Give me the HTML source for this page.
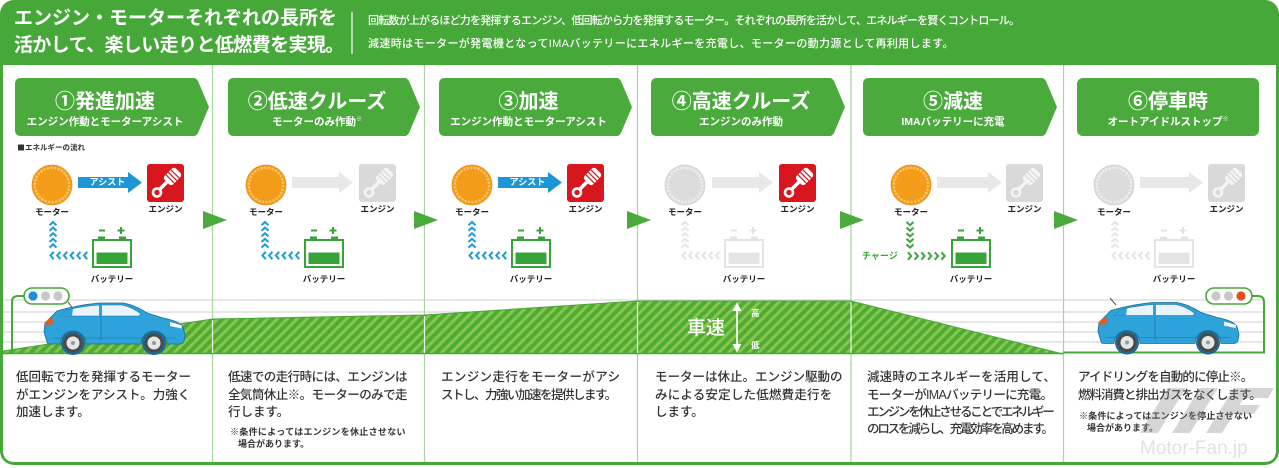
<!DOCTYPE html>
<html lang="ja"><head><meta charset="utf-8">
<style>
html,body{margin:0;padding:0;background:#fff;}
body{width:1279px;height:468px;position:relative;overflow:hidden;}
svg{position:absolute;left:0;top:0;}
.t{position:absolute;white-space:nowrap;line-height:1;font-family:"Liberation Sans","Noto Sans CJK JP",sans-serif;}
.ttl{font-size:20px;color:#fff;font-weight:bold;text-align:center;top:92px;}
.sub{font-size:10.5px;color:#fff;font-weight:bold;text-align:center;top:116.5px;}
.lbl{font-size:8.5px;font-weight:bold;color:#222;width:60px;text-align:center;}
.bt{font-size:12.5px;color:#333;font-weight:500;}
.nt{font-size:9px;color:#333;font-weight:bold;}
.sm{font-size:6px;vertical-align:4px;}
</style></head><body>
<svg width="1279" height="468" viewBox="0 0 1279 468">
<defs>
<pattern id="h" width="7" height="7" patternUnits="userSpaceOnUse" patternTransform="rotate(45)"><rect width="7" height="7" fill="#4fab36"/><rect width="3" height="7" fill="#86c64a"/></pattern>
<g id="motO"><circle r="20" fill="#f39c1a"/><circle r="17.2" fill="none" stroke="#f9c46c" stroke-width="2.4" stroke-dasharray="2.3 1.3"/><circle r="20" fill="none" stroke="#ec9018" stroke-width="0.8"/></g>
<g id="motG"><circle r="20" fill="#dcdcdc"/><circle r="17.2" fill="none" stroke="#ededed" stroke-width="2.4" stroke-dasharray="2.3 1.3"/><circle r="20" fill="none" stroke="#d2d2d2" stroke-width="0.8"/></g>
<g id="engR"><rect width="37" height="38" rx="3" fill="#d7161d"/><circle cx="10" cy="28.5" r="4" fill="none" stroke="#fff" stroke-width="2.6"/><path d="M12.5,25.5 L21,17" stroke="#fff" stroke-width="3.6"/><g transform="translate(24.5,13.5) rotate(45)"><rect x="-6" y="-9.5" width="12" height="16" rx="3" fill="#fff"/><path d="M-6,-5 H6 M-6,-1.5 H6 M-6,2 H6" stroke="#d7161d" stroke-width="1.2"/></g></g>
<g id="engG"><rect width="37" height="38" rx="3" fill="#d9d9d9"/><circle cx="10" cy="28.5" r="4" fill="none" stroke="#f4f4f4" stroke-width="2.6"/><path d="M12.5,25.5 L21,17" stroke="#f4f4f4" stroke-width="3.6"/><g transform="translate(24.5,13.5) rotate(45)"><rect x="-6" y="-9.5" width="12" height="16" rx="3" fill="#f4f4f4"/><path d="M-6,-5 H6 M-6,-1.5 H6 M-6,2 H6" stroke="#d9d9d9" stroke-width="1.2"/></g></g>
<path id="chv" fill="none" d="M-3.5,225.2 L0,222 L3.5,225.2 M-3.5,230.8 L0,227.6 L3.5,230.8 M-3.5,236.4 L0,233.2 L3.5,236.4 M-3.5,242 L0,238.8 L3.5,242 M-3.5,247.6 L0,244.4 L3.5,247.6 M0.7,251.8 L-2.5,255.5 L0.7,259.2 M7.4,251.8 L4.2,255.5 L7.4,259.2 M14.1,251.8 L10.9,255.5 L14.1,259.2 M20.8,251.8 L17.6,255.5 L20.8,259.2 M27.5,251.8 L24.3,255.5 L27.5,259.2 M34.2,251.8 L31,255.5 L34.2,259.2"/>
<g id="bat">
 <rect x="-19" y="240" width="38" height="27" fill="#fff" stroke="currentColor" stroke-width="2"/>
 <rect x="-15.5" y="252.5" width="31" height="11.5" fill="currentColor"/>
 <rect x="-14" y="236.5" width="7" height="3.5" fill="currentColor"/>
 <rect x="7" y="236.5" width="7" height="3.5" fill="currentColor"/>
 <path d="M-13,230.5 H-7 M5.5,230.5 H12.5 M9,227 V234" stroke="currentColor" stroke-width="2"/>
</g>
<g id="car">
 <circle cx="30" cy="42" r="12" fill="#1d6a92"/><circle cx="111" cy="42" r="12" fill="#1d6a92"/>
 <path d="M4,41 L1,31 L2,22 L8,16 L14,10 Q34,4 56,2 L80,2 Q92,4 104,12 L120,17 Q136,20 140,26 L142,34 L141,40 Q140,43 136,43 L124,43 A13,13 0 0 0 98,43 L43,43 A13,13 0 0 0 17,43 L7,43 Q4,43 4,41 Z" fill="#2ea2da" stroke="#1b6e97" stroke-width="0.8"/>
 <path d="M17,15 L24,9 Q40,5 57,4 L79,4 Q89,6 98,13 L96,15 Z" fill="#eaf5fb" stroke="#1b6e97" stroke-width="0.6"/>
 <rect x="56" y="4" width="3" height="11" fill="#2ea2da"/>
 <path d="M17,15 L24,9 L30,8 L29,15 Z" fill="#2ea2da"/>
 <path d="M2,21 L9,16 L11,23 L2,25 Z" fill="#d8602a"/>
 <path d="M127,21 L139,24.5 L138.5,27.5 L127,25 Z" fill="#fff"/>
 <path d="M58,16 L58,40 M10,37 H132" stroke="#1b6e97" stroke-width="0.6" fill="none"/>
 <circle cx="30" cy="42" r="9.5" fill="#4a4a4a"/><circle cx="30" cy="42" r="6.5" fill="#e6e6e6"/><circle cx="30" cy="42" r="2" fill="#999"/>
 <circle cx="111" cy="42" r="9.5" fill="#4a4a4a"/><circle cx="111" cy="42" r="6.5" fill="#e6e6e6"/><circle cx="111" cy="42" r="2" fill="#999"/>
</g>
</defs>

<rect x="0" y="0" width="1279" height="465" rx="14" fill="#46a838"/>
<path d="M3,65 H1276 V450 Q1276,462 1264,462 H15 Q3,462 3,450 Z" fill="#fff"/>
<line x1="352" y1="12" x2="352" y2="54" stroke="#fff" stroke-width="1.2"/>

<g stroke="#cfcfcf" stroke-width="1">
<line x1="3" y1="300" x2="1264" y2="300"/><line x1="3" y1="312" x2="1264" y2="312"/><line x1="3" y1="322" x2="1264" y2="322"/><line x1="3" y1="332" x2="1264" y2="332"/><line x1="3" y1="342" x2="1264" y2="342"/>
</g>

<g stroke="#a9d69e" stroke-width="1.2">
<line x1="212.5" y1="65" x2="212.5" y2="462"/><line x1="424.5" y1="65" x2="424.5" y2="462"/><line x1="637.5" y1="65" x2="637.5" y2="462"/><line x1="851" y1="65" x2="851" y2="462"/><line x1="1063.5" y1="65" x2="1063.5" y2="462"/>
</g>

<polygon points="3,351 212.5,319 424.5,315 637.5,301 851,301 1063,354 3,354" fill="url(#h)"/>
<polyline points="3,351 212.5,319 424.5,315 637.5,301 851,301 1063,354" fill="none" stroke="#46a838" stroke-width="1"/>
<line x1="3" y1="353.5" x2="1063" y2="353.5" stroke="#46a838" stroke-width="1.5"/>
<g stroke="#fff" stroke-width="1.2" opacity="0.85">
<line x1="212.5" y1="320" x2="212.5" y2="353"/><line x1="424.5" y1="316" x2="424.5" y2="353"/><line x1="637.5" y1="302" x2="637.5" y2="353"/><line x1="851" y1="302" x2="851" y2="353"/>
</g>
<path d="M1063,352.5 H1264 V302 Q1264,296 1258,296 H1252" fill="none" stroke="#46a838" stroke-width="2"/>
<path d="M24,296 H18 Q12,296 12,302 V353" fill="none" stroke="#46a838" stroke-width="2"/>

<rect x="24" y="288" width="45" height="16" rx="8" fill="#fff" stroke="#46a838" stroke-width="1.6"/>
<circle cx="33" cy="296" r="4.6" fill="#1b8fd6"/><circle cx="45.5" cy="296" r="4.6" fill="#c8c8c8"/><circle cx="58" cy="296" r="4.6" fill="#c8c8c8"/>
<rect x="1206" y="288" width="46" height="16" rx="8" fill="#fff" stroke="#46a838" stroke-width="1.6"/>
<circle cx="1216" cy="296" r="4.6" fill="#c8c8c8"/><circle cx="1228.5" cy="296" r="4.6" fill="#c8c8c8"/><circle cx="1241" cy="296" r="4.6" fill="#e8501a"/>

<line x1="68" y1="302" x2="74" y2="310" stroke="#555" stroke-width="1"/>
<use href="#car" x="43" y="301"/>
<line x1="1110" y1="298" x2="1116" y2="305" stroke="#555" stroke-width="1"/>
<use href="#car" x="1097" y="300.5"/>

<path d="M737,307 V348" stroke="#fff" stroke-width="1.6"/>
<polygon points="737,302.5 732.5,311 741.5,311" fill="#fff"/>
<polygon points="737,352.5 732.5,344 741.5,344" fill="#fff"/>

<g fill="#4aaa3c">
<path d="M21,78 H194 Q196,78 198,81 L209,107 L198,133 Q196,136 194,136 H21 Q15,136 15,130 V84 Q15,78 21,78 Z"/>
<path d="M234,78 H405 Q407,78 409,81 L420,107 L409,133 Q407,136 405,136 H234 Q228,136 228,130 V84 Q228,78 234,78 Z"/>
<path d="M445,78 H617 Q619,78 621,81 L632,107 L621,133 Q619,136 617,136 H445 Q439,136 439,130 V84 Q439,78 445,78 Z"/>
<path d="M657,78 H830 Q832,78 834,81 L845,107 L834,133 Q832,136 830,136 H657 Q651,136 651,130 V84 Q651,78 657,78 Z"/>
<path d="M869,78 H1042 Q1044,78 1046,81 L1057,107 L1046,133 Q1044,136 1042,136 H869 Q863,136 863,130 V84 Q863,78 869,78 Z"/>
<rect x="1077" y="78" width="182" height="58" rx="6"/>
<polygon points="203,211 203,229 227,220"/>
<polygon points="414,211 414,229 438,220"/>
<polygon points="627,211 627,229 651,220"/>
<polygon points="840,211 840,229 864,220"/>
<polygon points="1054,211 1054,229 1078,220"/>
</g>
<rect x="18" y="144.5" width="6" height="6" fill="#333"/>

<use href="#motO" x="52" y="185"/>
<use href="#motO" x="266" y="185"/>
<use href="#motO" x="472" y="185"/>
<use href="#motG" x="685" y="185"/>
<use href="#motO" x="911" y="185"/>
<use href="#motG" x="1114" y="185"/>

<polygon points="78,177 128,177 128,172 142,182.5 128,193 128,188 78,188" fill="#1c96d5"/>
<polygon points="292,177 339,177 339,172 353,182.5 339,193 339,188 292,188" fill="#e8e8e8"/>
<polygon points="498,177 548,177 548,172 562,182.5 548,193 548,188 498,188" fill="#1c96d5"/>
<polygon points="712,177 759,177 759,172 773,182.5 759,193 759,188 712,188" fill="#e8e8e8"/>
<polygon points="937,177 988,177 988,172 1002,182.5 988,193 988,188 937,188" fill="#e8e8e8"/>
<polygon points="1140,177 1189,177 1189,172 1203,182.5 1189,193 1189,188 1140,188" fill="#e8e8e8"/>

<use href="#engR" x="147" y="164"/>
<use href="#engG" x="359" y="164"/>
<use href="#engR" x="567" y="164"/>
<use href="#engR" x="779" y="164"/>
<use href="#engG" x="1006" y="164"/>
<use href="#engG" x="1208" y="164"/>

<use href="#chv" x="53" y="0" stroke="#1e9ad6" stroke-width="2"/>
<use href="#chv" x="265" y="0" stroke="#1e9ad6" stroke-width="2"/>
<use href="#chv" x="472" y="0" stroke="#1e9ad6" stroke-width="2"/>
<use href="#chv" x="685" y="0" stroke="#e4e4e4" stroke-width="2"/>
<use href="#chv" x="1115" y="0" stroke="#e4e4e4" stroke-width="2"/>
<path fill="none" stroke="#3ca63c" stroke-width="2" d="M906.5,222 L910,225.2 L913.5,222 M906.5,227.6 L910,230.8 L913.5,227.6 M906.5,233.2 L910,236.4 L913.5,233.2 M906.5,238.8 L910,242 L913.5,238.8 M906.5,244.4 L910,247.6 L913.5,244.4 M908,252.3 L911.2,256 L908,259.7 M914.7,252.3 L917.9,256 L914.7,259.7 M921.4,252.3 L924.6,256 L921.4,259.7 M928.1,252.3 L931.3,256 L928.1,259.7 M934.8,252.3 L938,256 L934.8,259.7 M941.5,252.3 L944.7,256 L941.5,259.7"/>

<use href="#bat" x="112" y="0" color="#37a43a"/>
<use href="#bat" x="324" y="0" color="#37a43a"/>
<use href="#bat" x="531" y="0" color="#37a43a"/>
<use href="#bat" x="744" y="0" color="#e4e4e4"/>
<use href="#bat" x="971" y="0" color="#37a43a"/>
<use href="#bat" x="1174" y="0" color="#e4e4e4"/>
</svg>

<div class="t" style="left:14px;top:9px;font-size:19px;color:#fff;font-weight:bold;">エンジン・モーターそれぞれの長所を</div>
<div class="t" style="left:14px;top:36px;font-size:19px;color:#fff;font-weight:bold;letter-spacing:-0.6px;">活かして、楽しい走りと低燃費を実現。</div>
<div class="t" style="left:368px;top:16px;font-size:11px;color:#fff;font-weight:500;letter-spacing:-0.8px;">回転数が上がるほど力を発揮するエンジン、低回転から力を発揮するモーター。それぞれの長所を活かして、エネルギーを賢くコントロール。</div>
<div class="t" style="left:368px;top:39px;font-size:11px;color:#fff;font-weight:500;letter-spacing:0.35px;">減速時はモーターが発電機となってIMAバッテリーにエネルギーを充電し、モーターの動力源として再利用します。</div>

<div class="t ttl" style="left:15px;width:180px;">①発進加速</div>
<div class="t sub" style="left:15px;width:180px;">エンジン作動とモーターアシスト</div>
<div class="t ttl" style="left:228px;width:178px;">②低速クルーズ</div>
<div class="t sub" style="left:228px;width:178px;">モーターのみ作動<span class="sm">※</span></div>
<div class="t ttl" style="left:439px;width:179px;">③加速</div>
<div class="t sub" style="left:439px;width:179px;">エンジン作動とモーターアシスト</div>
<div class="t ttl" style="left:651px;width:180px;">④高速クルーズ</div>
<div class="t sub" style="left:651px;width:180px;">エンジンのみ作動</div>
<div class="t ttl" style="left:863px;width:180px;">⑤減速</div>
<div class="t sub" style="left:863px;width:180px;">IMAバッテリーに充電</div>
<div class="t ttl" style="left:1077px;width:182px;">⑥停車時</div>
<div class="t sub" style="left:1077px;width:182px;">オートアイドルストップ<span class="sm">※</span></div>

<div class="t" style="left:25px;top:144px;font-size:7.5px;font-weight:bold;color:#333;">エネルギーの流れ</div>

<div class="t lbl" style="left:22px;top:208px;">モーター</div>
<div class="t lbl" style="left:236px;top:208px;">モーター</div>
<div class="t lbl" style="left:442px;top:208px;">モーター</div>
<div class="t lbl" style="left:655px;top:208px;">モーター</div>
<div class="t lbl" style="left:881px;top:208px;">モーター</div>
<div class="t lbl" style="left:1084px;top:208px;">モーター</div>
<div class="t lbl" style="left:135.5px;top:205px;">エンジン</div>
<div class="t lbl" style="left:347.5px;top:205px;">エンジン</div>
<div class="t lbl" style="left:555.5px;top:205px;">エンジン</div>
<div class="t lbl" style="left:767.5px;top:205px;">エンジン</div>
<div class="t lbl" style="left:994.5px;top:205px;">エンジン</div>
<div class="t lbl" style="left:1196.5px;top:205px;">エンジン</div>
<div class="t lbl" style="left:82px;top:275px;">バッテリー</div>
<div class="t lbl" style="left:294px;top:275px;">バッテリー</div>
<div class="t lbl" style="left:501px;top:275px;">バッテリー</div>
<div class="t lbl" style="left:714px;top:275px;">バッテリー</div>
<div class="t lbl" style="left:941px;top:275px;">バッテリー</div>
<div class="t lbl" style="left:1144px;top:275px;">バッテリー</div>
<div class="t" style="left:87.5px;width:40px;text-align:center;top:178px;font-size:9px;color:#fff;font-weight:bold;">アシスト</div>
<div class="t" style="left:507.5px;width:40px;text-align:center;top:178px;font-size:9px;color:#fff;font-weight:bold;">アシスト</div>
<div class="t" style="left:862px;top:252px;font-size:9px;color:#3ca63c;font-weight:bold;">チャージ</div>

<div class="t" style="left:687px;top:319px;font-size:19px;color:#fff;font-weight:500;">車速</div>
<div class="t" style="left:751px;top:308.5px;font-size:8.5px;color:#fff;font-weight:bold;">高</div>
<div class="t" style="left:751px;top:341px;font-size:8.5px;color:#fff;font-weight:bold;">低</div>

<div class="t bt" style="left:16px;top:371px;">低回転で力を発揮するモーター</div>
<div class="t bt" style="left:16px;top:389px;">がエンジンをアシスト。力強く</div>
<div class="t bt" style="left:16px;top:406px;">加速します。</div>

<div class="t bt" style="left:228px;top:371px;letter-spacing:-0.57px;">低速での走行時には、エンジンは</div>
<div class="t bt" style="left:228px;top:389px;letter-spacing:-0.57px;">全気筒休止※。モーターのみで走</div>
<div class="t bt" style="left:228px;top:406px;">行します。</div>
<div class="t nt" style="left:230px;top:428px;letter-spacing:0.3px;">※条件によってはエンジンを休止させない</div>
<div class="t nt" style="left:238px;top:439.5px;">場合があります。</div>

<div class="t bt" style="left:441px;top:371px;letter-spacing:0.35px;">エンジン走行をモーターがアシ</div>
<div class="t bt" style="left:441px;top:389px;letter-spacing:-1.5px;">ストし、力強い加速を提供します。</div>

<div class="t bt" style="left:655px;top:371px;">モーターは休止。エンジン駆動の</div>
<div class="t bt" style="left:655px;top:389px;letter-spacing:0.2px;">みによる安定した低燃費走行を</div>
<div class="t bt" style="left:655px;top:406px;">します。</div>

<div class="t bt" style="left:867px;top:371px;letter-spacing:0.17px;">減速時のエネルギーを活用して、</div>
<div class="t bt" style="left:867px;top:389px;letter-spacing:-0.7px;">モーターがIMAバッテリーに充電。</div>
<div class="t bt" style="left:867px;top:406px;letter-spacing:-2.17px;">エンジンを休止させることでエネルギー</div>
<div class="t bt" style="left:867px;top:423px;letter-spacing:-2.17px;">のロスを減らし、充電効率を高めます。</div>

<div class="t bt" style="left:1078px;top:371px;letter-spacing:-0.83px;">アイドリングを自動的に停止※。</div>
<div class="t bt" style="left:1078px;top:389px;letter-spacing:-1px;">燃料消費と排出ガスをなくします。</div>
<div class="t nt" style="left:1079px;top:412px;letter-spacing:0.16px;">※条件によってはエンジンを停止させない</div>
<div class="t nt" style="left:1087px;top:424px;">場合があります。</div>

<svg width="1279" height="468" viewBox="0 0 1279 468" style="pointer-events:none">
<g fill="#8a8a8a" opacity="0.35">
<polygon points="1140,433 1158,433 1186,388 1168,388"/>
<polygon points="1172,433 1190,433 1218,388 1200,388"/>
<polygon points="1206,433 1222,433 1250,388 1234,388"/>
<polygon points="1236,388 1274,388 1268,398 1230,398"/>
<polygon points="1224,405 1260,405 1254,414 1218,414"/>
</g>
</svg>
<div class="t" style="left:1140px;top:439px;font-size:19px;color:#e2e2e2;">Motor-Fan.jp</div>
</body></html>
